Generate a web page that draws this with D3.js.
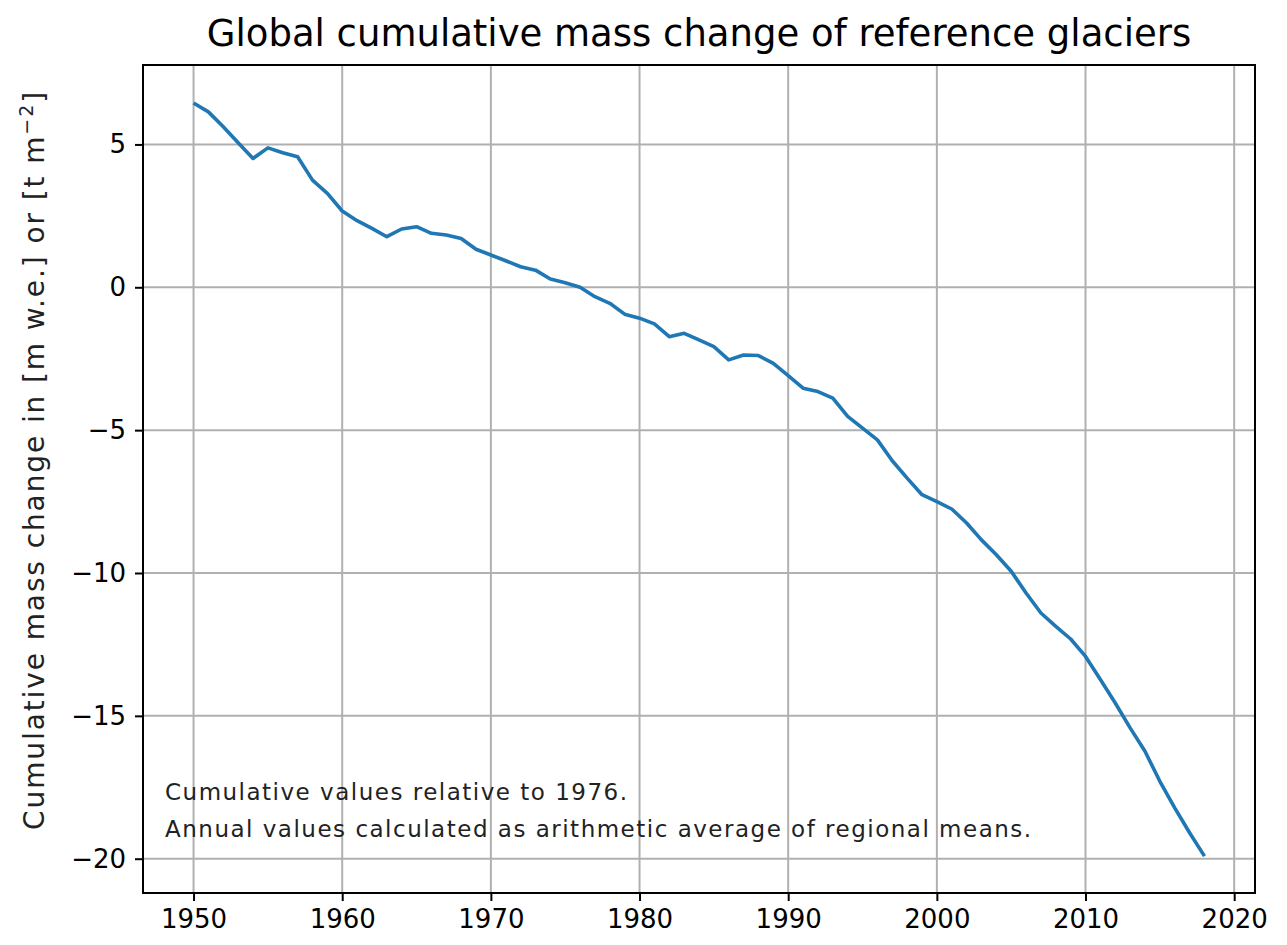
<!DOCTYPE html>
<html>
<head>
<meta charset="utf-8">
<script src="https://cdn.jsdelivr.net/npm/d3@7"></script>
<style>
  body { margin: 0; background: #fff; }
  text { font-family: "DejaVu Sans", sans-serif; fill: #000; }
</style>
</head>
<body>
<div id="chart"></div>
<script>
// data (cumulative mass change, relative to 1976)
var years = d3.range(1950, 2019);
var massChange = [
  6.45, 6.14, 5.62, 5.06, 4.51, 4.88, 4.71, 4.57, 3.75, 3.29,
  2.67, 2.33, 2.06, 1.77, 2.04, 2.12, 1.89, 1.83, 1.71, 1.33,
  1.13, 0.93, 0.72, 0.60, 0.29, 0.16, 0.00, -0.33, -0.56, -0.94,
  -1.08, -1.28, -1.73, -1.61, -1.84, -2.08, -2.54, -2.37, -2.39, -2.66,
  -3.09, -3.53, -3.65, -3.88, -4.52, -4.93, -5.34, -6.07, -6.68, -7.26,
  -7.50, -7.76, -8.25, -8.84, -9.36, -9.94, -10.70, -11.40, -11.87, -12.31,
  -12.92, -13.73, -14.55, -15.42, -16.24, -17.29, -18.22, -19.09, -19.91
];
var xTicks = [1950, 1960, 1970, 1980, 1990, 2000, 2010, 2020];
var yTicks = [5, 0, -5, -10, -15, -20];
var notes = [
  "Cumulative values relative to 1976.",
  "Annual values calculated as arithmetic average of regional means."
];

var data = years.map(function (y, i) { return { year: y, value: massChange[i] }; });

// set the dimensions and margins of the graph
var margin = { top: 65, right: 32, bottom: 52, left: 143 },
  width = 1287 - margin.left - margin.right,
  height = 945 - margin.top - margin.bottom;

var root = d3
  .select("#chart")
  .append("svg")
  .attr("width", 1287)
  .attr("height", 945);

var svg = root
  .append("g")
  .attr("transform", "translate(" + margin.left + "," + margin.top + ")");

// matplotlib style 5% margins around the data
var x = d3.scaleLinear().domain([1946.6, 2021.4]).range([0, width]);
var y = d3.scaleLinear().domain([7.78, -21.2]).range([0, height]);

// grid
svg
  .append("g")
  .selectAll("line")
  .data(xTicks)
  .enter()
  .append("line")
  .attr("x1", function (d) { return x(d); })
  .attr("x2", function (d) { return x(d); })
  .attr("y1", 0)
  .attr("y2", height)
  .style("stroke", "#b0b0b0")
  .style("stroke-width", 2);

svg
  .append("g")
  .selectAll("line")
  .data(yTicks)
  .enter()
  .append("line")
  .attr("x1", 0)
  .attr("x2", width)
  .attr("y1", function (d) { return y(d); })
  .attr("y2", function (d) { return y(d); })
  .style("stroke", "#b0b0b0")
  .style("stroke-width", 2);

// the line
var line = d3
  .line()
  .x(function (d) { return x(d.year); })
  .y(function (d) { return y(d.value); });

svg
  .append("path")
  .datum(data)
  .attr("d", line)
  .style("fill", "none")
  .style("stroke", "#1f77b4")
  .style("stroke-width", 3.6)
  .style("stroke-linejoin", "round");

// axes
var fmt = function (d) { return d3.format("d")(d).replace("-", "\u2212"); };

var xAxis = svg
  .append("g")
  .attr("transform", "translate(0," + height + ")")
  .call(d3.axisBottom(x).tickValues(xTicks).tickFormat(d3.format("d")).tickSize(8).tickPadding(9));
xAxis.select(".domain").remove();
xAxis.selectAll("text").style("font-size", "26px");
xAxis.selectAll("line").style("stroke-width", 2);

var yAxis = svg
  .append("g")
  .call(d3.axisLeft(y).tickValues(yTicks).tickFormat(fmt).tickSize(8).tickPadding(9));
yAxis.select(".domain").remove();
yAxis.selectAll("text").style("font-size", "26px");
yAxis.selectAll("line").style("stroke-width", 2);

// frame
svg
  .append("rect")
  .attr("width", width)
  .attr("height", height)
  .style("fill", "none")
  .style("stroke", "#000")
  .style("stroke-width", 2);

// notes
svg
  .selectAll(".note")
  .data(notes)
  .enter()
  .append("text")
  .attr("class", "note")
  .attr("x", 22)
  .attr("y", function (d, i) { return 735 + i * 37; })
  .style("font-size", "23px")
  .style("letter-spacing", "1.5px")
  .style("fill", "#222")
  .text(function (d) { return d; });

// title
root
  .append("text")
  .attr("x", margin.left + width / 2)
  .attr("y", 46)
  .attr("text-anchor", "middle")
  .style("font-size", "37px")
  .text("Global cumulative mass change of reference glaciers");

// y label with superscript
var ylab = root
  .append("text")
  .attr("transform", "translate(44,460) rotate(-90)")
  .attr("text-anchor", "middle")
  .style("font-size", "28px")
  .style("letter-spacing", "1.9px")
  .style("fill", "#222");
ylab.append("tspan").text("Cumulative mass change in [m w.e.] or [t m");
ylab.append("tspan").attr("dy", -11).style("font-size", "19px").text("\u22122");
ylab.append("tspan").attr("dy", 11).text("]");
</script>
</body>
</html>
